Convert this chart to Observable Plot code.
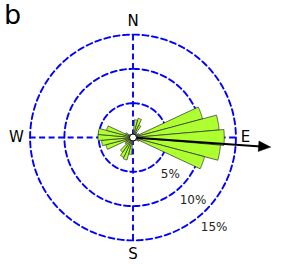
<!DOCTYPE html>
<html>
<head>
<meta charset="utf-8">
<script src="https://cdn.jsdelivr.net/npm/d3@7"></script>
<script src="https://cdn.jsdelivr.net/npm/@observablehq/plot@0.6"></script>
<style>
  html, body { margin: 0; padding: 0; background: #fff; }
  #chart { position: relative; width: 283px; height: 272px; }
  #panel { position: absolute; left: 4px; top: 1px; font: 27px/27px "DejaVu Sans", sans-serif; color: #000; z-index: 2; }
</style>
</head>
<body>
<div id="chart"><div id="panel">b</div></div>
<script>
// ---- data ----
const bearings = [0, 10, 20, 30, 40, 50, 60, 70, 80, 90, 100, 110, 120, 130, 140, 150, 160, 170,
                  180, 190, 200, 210, 220, 230, 240, 250, 260, 270, 280, 290, 300, 310, 320, 330, 340, 350];
const freqs    = [0.6, 2.6, 2.9, 2.0, 0.8, 0.6, 1.0, 10.5, 12.6, 13.3, 12.8, 10.8, 1.0, 0.6, 0.5, 0.5, 0.5, 0.6,
                  0.7, 2.5, 3.4, 3.2, 2.6, 1.4, 1.2, 4.1, 4.6, 5.1, 5.1, 4.0, 1.2, 0.6, 0.5, 0.5, 0.5, 0.5];
const ringTicks = [5, 10, 15];
const ringLabels = ["5%", "10%", "15%"];
const compass = ["N", "E", "S", "W"];
const compassBearings = [0, 90, 180, 270];
const meanBearing = 94;
const meanLength = 20.1;

// ---- layout ----
const W = 283, H = 272, cx = 132.5, cy = 137, k = 6.86;
const binWidth = 10;
const rad = d => d * Math.PI / 180;
const px = (r, b) => r * Math.sin(rad(b));
const py = (r, b) => r * Math.cos(rad(b));

const wedges = [];
bearings.forEach((b, i) => {
  const v = freqs[i];
  wedges.push({id: i, x: 0, y: 0});
  for (let a = b - binWidth / 2; a <= b + binWidth / 2 + 1e-9; a += 0.5) {
    wedges.push({id: i, x: px(v, a), y: py(v, a)});
  }
  wedges.push({id: i, x: 0, y: 0});
});

const rings = [];
ringTicks.forEach(t => {
  for (let a = 0; a <= 360; a += 1) rings.push({t, x: px(t, a), y: py(t, a)});
});

const outer = ringTicks[ringTicks.length - 1];
const ringLab = ringTicks.map((t, i) => {
  const r = t + 2.65, b = 133 + 0.33 * t;
  return {label: ringLabels[i], x: px(r, b), y: py(r, b)};
});
const compassLab = compass.map((c, i) => {
  const r = c === "E" ? 16.4 : 17;
  return {label: c, x: px(r, compassBearings[i]), y: py(r, compassBearings[i])};
});

const headLen = 12 / k, headHalf = 5.2 / k;
const shaftEnd = meanLength - headLen;
const shaft = [{x1: 0, y1: 0, x2: px(shaftEnd + 0.3, meanBearing), y2: py(shaftEnd + 0.3, meanBearing)}];
const perp = meanBearing + 90;
const head = [
  {x: px(meanLength, meanBearing), y: py(meanLength, meanBearing)},
  {x: px(shaftEnd, meanBearing) + px(headHalf, perp), y: py(shaftEnd, meanBearing) + py(headHalf, perp)},
  {x: px(shaftEnd, meanBearing) - px(headHalf, perp), y: py(shaftEnd, meanBearing) - py(headHalf, perp)},
  {x: px(meanLength, meanBearing), y: py(meanLength, meanBearing)}
];

const blue = "#0000ff";
const dash = "6,3.5";
const lw = 1.9;

const chart = Plot.plot({
  width: W, height: H,
  margin: 0,
  x: {domain: [-cx / k, (W - cx) / k], axis: null},
  y: {domain: [-(H - cy) / k, cy / k], axis: null},
  style: {fontFamily: "DejaVu Sans, sans-serif", background: "transparent"},
  marks: [
    Plot.line(rings, {x: "x", y: "y", z: "t", stroke: blue, strokeWidth: lw, strokeDasharray: dash}),
    Plot.ruleX([0], {y1: -outer, y2: outer, stroke: blue, strokeWidth: lw, strokeDasharray: dash}),
    Plot.ruleY([0], {x1: -outer, x2: outer, stroke: blue, strokeWidth: lw, strokeDasharray: dash}),
    Plot.line(wedges, {x: "x", y: "y", z: "id", fill: "#adff2f", stroke: "#2a2a2a", strokeWidth: 0.7, strokeLinejoin: "miter"}),
    Plot.link(shaft, {x1: "x1", y1: "y1", x2: "x2", y2: "y2", stroke: "#000", strokeWidth: 2}),
    Plot.line(head, {x: "x", y: "y", fill: "#000", stroke: "#000", strokeWidth: 0.5}),
    Plot.dot([{x: 0, y: 0}], {x: "x", y: "y", r: 3.5, fill: "#fff", stroke: "#000", strokeWidth: 1}),
    Plot.text(ringLab, {x: "x", y: "y", text: "label", fontSize: 12, fill: "#222"}),
    Plot.text(compassLab, {x: "x", y: "y", text: "label", fontSize: 15, fill: "#000"})
  ]
});
chart.style.position = "absolute";
chart.style.left = "0px";
chart.style.top = "0px";
document.getElementById("chart").appendChild(chart);
</script>
</body>
</html>
